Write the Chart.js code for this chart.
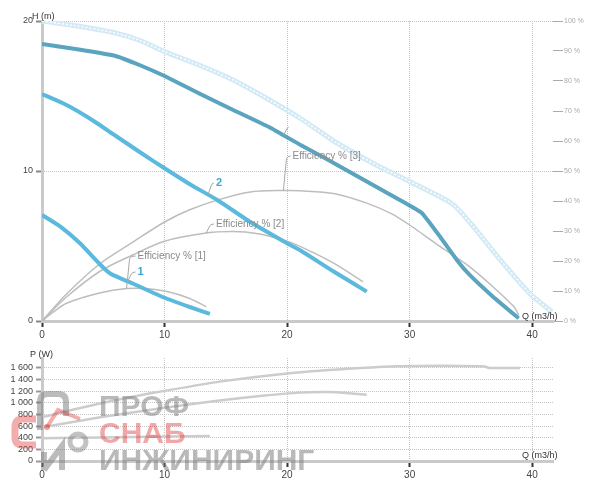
<!DOCTYPE html>
<html>
<head>
<meta charset="utf-8">
<script src="https://cdn.jsdelivr.net/npm/chart.js@4"></script>
<style>
    html, body { margin: 0; padding: 0; background: #fff; }
    #wrap { position: relative; width: 600px; height: 487px; overflow: hidden; }
    #headChart { position: absolute; left: 0; top: 0; }
    #powerChart { position: absolute; left: 0; top: 340px; }
    .wm { position: absolute; pointer-events: none; font-family: "Liberation Sans", Arial, sans-serif;
          font-weight: bold; font-size: 30px; line-height: 1; white-space: nowrap; }
    #logo { position: absolute; left: 0; top: 385px; pointer-events: none; }
</style>
</head>
<body>
<div id="wrap">
    <canvas id="headChart" width="600" height="340"></canvas>
    <canvas id="powerChart" width="600" height="147"></canvas>
    <svg id="logo" width="100" height="95" viewBox="0 385 100 95">
        <path d="M40 430 V402 Q40 394 48 394 H58 Q66 394 66 402 V416" fill="none" stroke="rgba(120,120,120,0.5)" stroke-width="6"/>
        <path d="M36 419 H23 Q15 419 15 427 V437 Q15 445 23 445 H36" fill="none" stroke="rgba(225,60,60,0.42)" stroke-width="7"/>
        <path d="M47 427 L58 410 L80 419" fill="none" stroke="rgba(225,60,60,0.42)" stroke-width="4"/>
        <circle cx="47" cy="427" r="3" fill="rgba(225,60,60,0.5)"/>
        <path d="M44 470 V452 M44 470 L62 446 V470" fill="none" stroke="rgba(120,120,120,0.5)" stroke-width="6"/>
        <circle cx="78" cy="442" r="8" fill="none" stroke="rgba(120,120,120,0.45)" stroke-width="5"/>
    </svg>
    <div class="wm" style="left:99px; top:391px; color:rgba(120,120,120,0.52);">ПРОФ</div>
    <div class="wm" style="left:99px; top:418px; color:rgba(225,60,60,0.45);">СНАБ</div>
    <div class="wm" style="left:99px; top:445px; color:rgba(120,120,120,0.52);">ИНЖИНИРИНГ</div>
</div>
<script>
// head curves, Q in m3/h, H in m
const q1 = [0, 1.5, 3.1, 4.7, 5.6, 7.4, 10, 12, 13.7];
const head1 = [7.07, 6.29, 5.18, 3.8, 3.15, 2.5, 1.55, 0.95, 0.47];
const q2 = [0, 2, 3.9, 6, 8, 10, 12, 14.3, 17, 20, 21.1, 23.8, 26.5];
const head2 = [15.13, 14.4, 13.5, 12.35, 11.25, 10.18, 9.15, 8.07, 6.6, 5.18, 4.7, 3.3, 1.96];
const q3 = [0, 3, 6, 8, 10, 13, 15.6, 18.6, 21.1, 23, 26.5, 29.2, 31, 32.5, 33.85, 34.9, 36.8, 38.9];
const head3 = [18.47, 18.1, 17.67, 17.05, 16.33, 15.1, 14.07, 12.9, 11.73, 10.9, 9.3, 8.07, 7.2, 5.6, 4.07, 3.07, 1.62, 0.18];
const qMax = [0, 3, 6, 8, 10, 13, 15.6, 18, 21.1, 24, 27.5, 30, 33.5, 35.2, 37.4, 39.8, 41.7];
const headMax = [20, 19.65, 19.2, 18.7, 17.96, 17.0, 16.07, 15.0, 13.5, 11.9, 10.3, 9.3, 7.8, 6.29, 4.07, 1.84, 0.55];

// efficiency curves, %
const qEff1 = [0, 1, 2, 4.7, 6.9, 8.5, 10.2, 12, 13.4];
const eff1 = [0, 3.2, 5.9, 9.3, 10.8, 10.8, 9.8, 7.6, 4.8];
const qEff2 = [0, 2, 4.7, 7.4, 10, 13.4, 15.6, 17.5, 19.7, 21.1, 23.8, 26.2];
const eff2 = [0, 8, 16.5, 22, 26.6, 29.3, 29.8, 29.2, 27, 24.8, 19.3, 13.1];
const qEff3 = [0, 2, 4.7, 7.45, 10, 12, 14.3, 17, 19.7, 21.1, 23.8, 26.5, 28.5, 30, 32.5, 34.7, 36.8, 38.5, 38.9];
const eff3 = [0, 9, 19, 26.4, 33, 37, 40.3, 43, 43.5, 43.4, 42.5, 39.3, 35.8, 32, 24.8, 18.7, 11.4, 4.8, 2];

// power curves, W
const qPow1 = [0, 5, 10, 13.7];
const pow1 = [390, 405, 420, 430];
const qPow2 = [0, 5, 10, 14.5, 18, 21, 23.5, 25, 26.5];
const pow2 = [580, 760, 915, 1040, 1120, 1175, 1185, 1165, 1140];
const qPow3 = [0, 2.5, 5, 7.5, 10, 14.5, 20, 25, 29, 36, 36.5, 39];
const pow3 = [750, 880, 1000, 1110, 1205, 1364, 1505, 1585, 1630, 1630, 1600, 1600];

const qTicks = [0, 10, 20, 30, 40];
const headTicks = [0, 10, 20];
const effTicks = [0, 10, 20, 30, 40, 50, 60, 70, 80, 90, 100];
const powTicks = [0, 200, 400, 600, 800, 1000, 1200, 1400, 1600];

Chart.defaults.font.family = '"Liberation Sans", Arial, sans-serif';

function pts(qs, vs) {
    return qs.map((q, i) => ({ x: q, y: vs[i] }));
}

function interp(qs, vs, q) {
    for (let i = 1; i < qs.length; i++) {
        if (q <= qs[i]) {
            const t = (q - qs[i - 1]) / (qs[i] - qs[i - 1]);
            return vs[i - 1] + t * (vs[i] - vs[i - 1]);
        }
    }
    return vs[vs.length - 1];
}

function keepTicks(list) {
    return scale => { scale.ticks = list.map(v => ({ value: v })); };
}

function line(data, color, width, extra) {
    return Object.assign({ data: data, borderColor: color, borderWidth: width, pointRadius: 0, fill: false, tension: 0.2 }, extra || {});
}

function qAxis(height) {
    return {
        type: 'linear', min: 0, max: 41.7,
        afterBuildTicks: keepTicks(qTicks),
        ticks: { color: '#444', font: { size: 10 }, padding: 2, maxRotation: 0, autoSkip: false },
        grid: { color: '#c4c4c4', tickLength: 6, tickColor: '#333', tickWidth: 2, tickBorderDash: [] },
        border: { color: '#cacaca', width: 3, dash: [1, 1] },
        afterFit: s => { s.height = height; }
    };
}

// labels and leader lines on the head chart
const notes = [
    { text: 'Efficiency % [1]', qs: qEff1, vs: eff1, axis: 'yr', at: 6.9, lq: 7.8, lh: 4.33, color: '#8a8a8a', font: '10px "Liberation Sans", Arial' },
    { text: 'Efficiency % [2]', qs: qEff2, vs: eff2, axis: 'yr', at: 13.4, lq: 14.2, lh: 6.47, color: '#8a8a8a', font: '10px "Liberation Sans", Arial' },
    { text: 'Efficiency % [3]', qs: qEff3, vs: eff3, axis: 'yr', at: 19.7, lq: 20.45, lh: 11.0, color: '#8a8a8a', font: '10px "Liberation Sans", Arial' },
    { text: '1', qs: q1, vs: head1, axis: 'y', at: 7.0, lq: 7.8, lh: 3.27, color: '#3aa9d9', font: 'bold 11px "Liberation Sans", Arial' },
    { text: '2', qs: q2, vs: head2, axis: 'y', at: 13.55, lq: 14.2, lh: 9.2, color: '#3aa9d9', font: 'bold 11px "Liberation Sans", Arial' },
    { text: '', qs: q3, vs: head3, axis: 'y', at: 19.7, lq: 20.3, lh: 12.93, color: '#8a8a8a', font: '10px Arial' }
];

const headNotes = {
    id: 'headNotes',
    afterDatasetsDraw(chart) {
        const { ctx, scales } = chart;
        ctx.save();
        notes.forEach(n => {
            const ax = scales.x.getPixelForValue(n.at);
            const ay = scales[n.axis].getPixelForValue(interp(n.qs, n.vs, n.at));
            const lx = scales.x.getPixelForValue(n.lq);
            const ly = scales.y.getPixelForValue(n.lh);
            ctx.strokeStyle = '#a8a8a8';
            ctx.lineWidth = 1;
            ctx.beginPath();
            ctx.moveTo(ax, ay);
            ctx.lineTo(ax + 3, ly + 3);
            ctx.quadraticCurveTo(ax + 4, ly, lx - 2, ly);
            ctx.stroke();
            if (n.text) {
                ctx.fillStyle = n.color;
                ctx.font = n.font;
                ctx.textBaseline = 'middle';
                ctx.fillText(n.text, lx, ly);
            }
        });
        ctx.restore();
    },
    afterDraw(chart) {
        const ctx = chart.ctx;
        ctx.save();
        ctx.fillStyle = '#333';
        ctx.font = '9px "Liberation Sans", Arial';
        ctx.textBaseline = 'middle';
        ctx.fillText('H (m)', 32, 17);
        ctx.fillText('Q (m3/h)', 522, 317);
        ctx.restore();
    }
};

const powerNotes = {
    id: 'powerNotes',
    afterDraw(chart) {
        const ctx = chart.ctx;
        ctx.save();
        ctx.fillStyle = '#333';
        ctx.font = '9px "Liberation Sans", Arial';
        ctx.textBaseline = 'middle';
        ctx.fillText('P (W)', 30, 15);
        ctx.fillText('Q (m3/h)', 522, 116);
        ctx.restore();
    }
};

const blue = '#5cb9de';
const teal = '#5ba4bf';
const effGray = '#bdbdbd';

new Chart(document.getElementById('headChart'), {
    type: 'line',
    data: {
        datasets: [
            line(pts(q1, head1), blue, 4, { yAxisID: 'y' }),
            line(pts(q2, head2), blue, 4, { yAxisID: 'y' }),
            line(pts(q3, head3), teal, 4, { yAxisID: 'y', tension: 0.1 }),
            line(pts(qEff1, eff1), effGray, 1.5, { yAxisID: 'yr', tension: 0.3 }),
            line(pts(qEff2, eff2), effGray, 1.5, { yAxisID: 'yr', tension: 0.3 }),
            line(pts(qEff3, eff3), effGray, 1.5, { yAxisID: 'yr', tension: 0.3 }),
            line(pts(qMax, headMax), '#ffffff', 1.5, { yAxisID: 'y', borderDash: [2, 2] }),
            line(pts(qMax, headMax), '#d3eaf6', 5, { yAxisID: 'y' })
        ]
    },
    options: {
        responsive: false,
        animation: false,
        layout: { padding: { top: 21, left: 0, right: 0, bottom: 0 } },
        plugins: { legend: { display: false }, tooltip: { enabled: false } },
        scales: {
            x: qAxis(19),
            y: {
                position: 'left', min: 0, max: 20,
                afterBuildTicks: keepTicks(headTicks),
                ticks: { color: '#444', font: { size: 9 }, padding: 3, autoSkip: false },
                grid: { color: '#c4c4c4', tickLength: 6, tickColor: '#888', tickWidth: 2, tickBorderDash: [] },
                border: { color: '#cacaca', width: 3, dash: [1, 1] },
                afterFit: s => { s.width = 42; }
            },
            yr: {
                position: 'right', min: 0, max: 100,
                afterBuildTicks: keepTicks(effTicks),
                ticks: { color: '#aaa', font: { size: 7 }, padding: 1, autoSkip: false, callback: v => v + ' %' },
                grid: { drawOnChartArea: false, tickLength: 10, tickColor: '#aaa', tickWidth: 1 },
                border: { display: false },
                afterFit: s => { s.width = 47; }
            }
        }
    },
    plugins: [headNotes]
});

new Chart(document.getElementById('powerChart'), {
    type: 'line',
    data: {
        datasets: [
            line(pts(qPow1, pow1), '#cccccc', 2.5),
            line(pts(qPow2, pow2), '#cccccc', 2.5),
            line(pts(qPow3, pow3), '#cccccc', 2.5)
        ]
    },
    options: {
        responsive: false,
        animation: false,
        layout: { padding: { top: 18, left: 0, right: 0, bottom: 0 } },
        plugins: { legend: { display: false }, tooltip: { enabled: false } },
        scales: {
            x: qAxis(26),
            y: {
                position: 'left', min: 0, max: 1770,
                afterBuildTicks: keepTicks(powTicks),
                ticks: {
                    color: '#444', font: { size: 9 }, padding: 3, autoSkip: false,
                    callback: v => v >= 1000 ? Math.floor(v / 1000) + ' ' + String(v % 1000).padStart(3, '0') : String(v)
                },
                grid: { color: '#c4c4c4', tickLength: 6, tickColor: '#999', tickWidth: 2, tickBorderDash: [] },
                border: { color: '#cacaca', width: 3, dash: [1, 1] },
                afterFit: s => { s.width = 42; }
            },
            yr: {
                position: 'right', display: true, min: 0, max: 100,
                ticks: { display: false },
                grid: { display: false },
                border: { display: false },
                afterFit: s => { s.width = 47; }
            }
        }
    },
    plugins: [powerNotes]
});
</script>
</body>
</html>
